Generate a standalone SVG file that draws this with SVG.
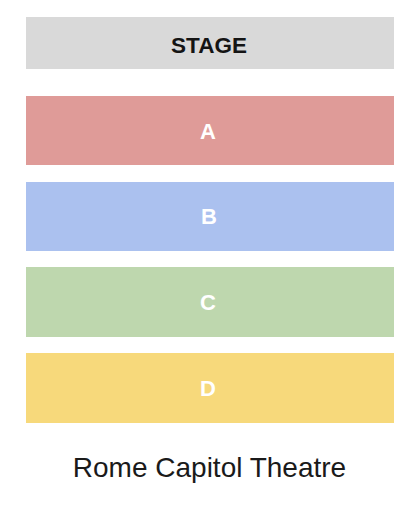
<svg xmlns="http://www.w3.org/2000/svg" width="416" height="506" viewBox="0 0 416 506">
<style>
.lbl{font-family:"Liberation Sans",Arial,sans-serif;font-weight:bold;font-size:22px;text-anchor:middle;fill:#ffffff}
.stage{fill:#141414;font-size:22.5px}
.title{font-family:"Liberation Sans",Arial,sans-serif;font-size:28px;text-anchor:middle;fill:#1a1a1a}
</style>
<rect width="416" height="506" fill="#ffffff"/>
<g id="stage"><rect x="26" y="17" width="368" height="52" fill="#d9d9d9"/><text class="lbl stage" x="209" y="53">STAGE</text></g>
<g id="A"><rect x="26" y="96" width="368" height="69" fill="#df9b98"/><text class="lbl" x="208" y="139">A</text></g>
<g id="B"><rect x="26" y="182" width="368" height="69" fill="#abc1ef"/><text class="lbl" x="209" y="224">B</text></g>
<g id="C"><rect x="26" y="267" width="368" height="70" fill="#bed7ae"/><text class="lbl" x="208" y="310">C</text></g>
<g id="D"><rect x="26" y="353" width="368" height="70" fill="#f7d97b"/><text class="lbl" x="208" y="396">D</text></g>
<text class="title" x="209.5" y="477">Rome Capitol Theatre</text>
</svg>
